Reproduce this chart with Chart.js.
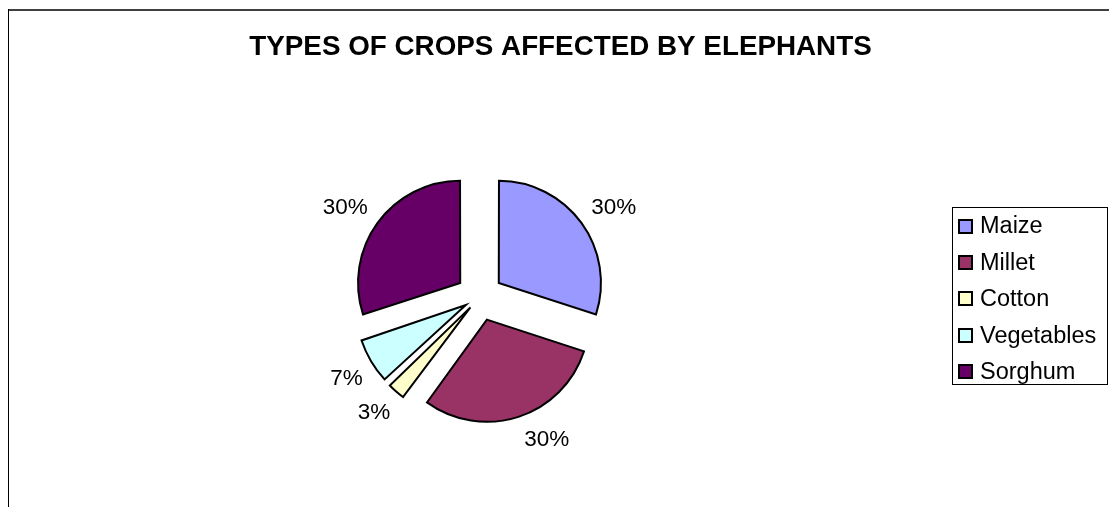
<!DOCTYPE html>
<html>
<head>
<meta charset="utf-8">
<script src="https://cdn.jsdelivr.net/npm/chart.js@4.4.1/dist/chart.umd.min.js"></script>
<style>
  html, body { margin: 0; padding: 0; background: #fff; }
  #wrap { position: relative; width: 1109px; height: 507px; }
</style>
</head>
<body>
<div id="wrap"><canvas id="cropPie"></canvas></div>
<script>
const chartTitle = "TYPES OF CROPS AFFECTED BY ELEPHANTS";
const crops = ["Maize", "Millet", "Cotton", "Vegetables", "Sorghum"];
const shares = [30, 30, 3, 7, 30];
const sliceColors = ["#9999FF", "#993366", "#FFFFCC", "#CCFFFF", "#660066"];

const FONT = 'Arial, "Liberation Sans", sans-serif';
const PULL = 25; // how far every slice is pulled away from the centre

const total = shares.reduce((a, b) => a + b, 0);

// chart.js moves an arc by offset/4 * (1 + fix), so undo that to get an even pull
function offsetFor(value) {
  const circ = value / total * 2 * Math.PI;
  const fix = 1 - Math.sin(Math.min(Math.PI, circ));
  return PULL * 4 / (1 + fix);
}

const frame = {
  id: 'frame',
  beforeDraw(chart) {
    const ctx = chart.ctx;
    ctx.save();
    ctx.fillStyle = '#fff';
    ctx.fillRect(0, 0, chart.width, chart.height);
    ctx.fillStyle = '#404040';
    ctx.fillRect(8, 9, chart.width - 8, 2);
    ctx.fillStyle = '#000';
    ctx.fillRect(8, 9, 1, chart.height - 9);
    ctx.restore();
  }
};

const titleBlock = {
  id: 'titleBlock',
  afterDraw(chart) {
    const ctx = chart.ctx;
    ctx.save();
    ctx.font = 'bold 27.8px ' + FONT;
    ctx.fillStyle = '#000';
    ctx.textAlign = 'center';
    ctx.textBaseline = 'middle';
    ctx.fillText(chartTitle, 560.5, 47);
    ctx.restore();
  }
};

// percentage labels: the corner of each label nearest the pie sits just outside its slice
const pieLabels = {
  id: 'pieLabels',
  afterDatasetsDraw(chart) {
    const ctx = chart.ctx;
    const meta = chart.getDatasetMeta(0);
    ctx.save();
    ctx.font = '22.5px ' + FONT;
    ctx.fillStyle = '#000';
    ctx.textAlign = 'center';
    ctx.textBaseline = 'middle';
    meta.data.forEach((arc, i) => {
      const p = arc.getProps(['x', 'y', 'startAngle', 'endAngle', 'outerRadius'], true);
      const mid = (p.startAngle + p.endAngle) / 2;
      const dx = Math.cos(mid), dy = Math.sin(mid);
      const text = Math.round(shares[i] / total * 100) + '%';
      const w = ctx.measureText(text).width;
      const reach = PULL + p.outerRadius + 12;
      const cx = p.x + dx * reach + Math.sign(dx) * w / 2 + (dy > 0 ? 2 : 0);
      const cy = p.y + dy * reach + (dy > 0 ? 12 : -8);
      ctx.fillText(text, cx, cy);
    });
    ctx.restore();
  }
};

const boxedLegend = {
  id: 'boxedLegend',
  afterDraw(chart) {
    const ctx = chart.ctx;
    const left = 952, top = 207, width = 155, height = 177;
    ctx.save();
    ctx.strokeStyle = '#000';
    ctx.lineWidth = 1;
    ctx.strokeRect(left + 0.5, top + 0.5, width, height);
    ctx.font = '23.5px ' + FONT;
    ctx.textBaseline = 'middle';
    ctx.textAlign = 'left';
    crops.forEach((name, i) => {
      const cy = top + 19 + i * 36.4;
      const sy = Math.round(cy - 7.5);
      ctx.fillStyle = '#000';
      ctx.fillRect(958, sy, 15, 15);
      ctx.fillStyle = sliceColors[i];
      ctx.fillRect(960, sy + 2, 11, 11);
      ctx.fillStyle = '#000';
      ctx.fillText(name, 980, cy + 1);
    });
    ctx.restore();
  }
};

new Chart(document.getElementById('cropPie'), {
  type: 'pie',
  data: {
    labels: crops,
    datasets: [{
      data: shares,
      backgroundColor: sliceColors,
      borderColor: '#000',
      borderWidth: 2,
      borderJoinStyle: 'miter',
      offset: shares.map(offsetFor),
      hoverOffset: 0
    }]
  },
  options: {
    responsive: true,
    maintainAspectRatio: false,
    animation: false,
    events: [],
    radius: 101,
    layout: { padding: { left: 0, right: 150, top: 87, bottom: 0 } },
    plugins: {
      legend: { display: false },
      title: { display: false },
      tooltip: { enabled: false }
    }
  },
  plugins: [frame, titleBlock, pieLabels, boxedLegend]
});
</script>
</body>
</html>
